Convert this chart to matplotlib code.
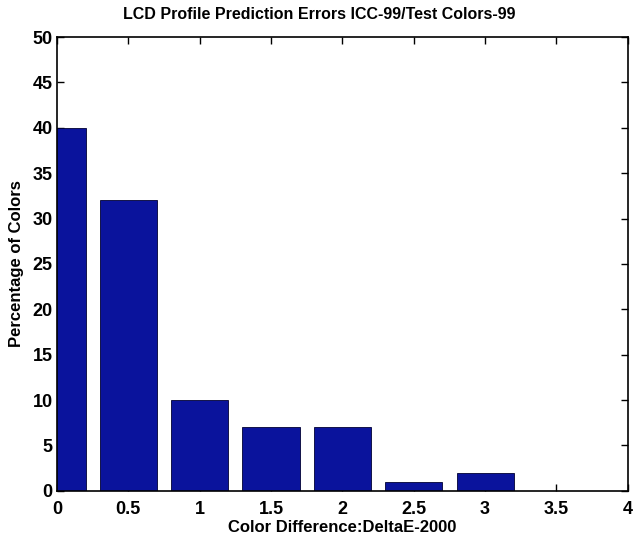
import numpy as np
import matplotlib
matplotlib.use("Agg")
import matplotlib.pyplot as plt

# DeltaE-2000 bins and share of colours in each bin
bin_centers = [0, 0.5, 1, 1.5, 2, 2.5, 3, 3.5]
percentages = [40, 32, 10, 7, 7, 1, 2, 0]
x_ticks = [0, 0.5, 1, 1.5, 2, 2.5, 3, 3.5, 4]
x_tick_labels = ["0", "0.5", "1", "1.5", "2", "2.5", "3", "3.5", "4"]
y_ticks = [0, 5, 10, 15, 20, 25, 30, 35, 40, 45, 50]

plt.rcParams['font.family'] = ['Liberation Sans', 'DejaVu Sans']
plt.rcParams['font.weight'] = 'bold'

fig = plt.figure(figsize=(6.4, 5.37), dpi=100)
ax = fig.add_axes([0.089, 0.086, 0.892, 0.845])

ax.bar(bin_centers, percentages, width=0.4, color='#0A139C',
       edgecolor='#000033', linewidth=0.6, zorder=2)

ax.set_xlim(0, 4)
ax.set_ylim(0, 50)
ax.set_xticks(x_ticks)
ax.set_xticklabels(x_tick_labels)
ax.set_yticks(y_ticks)

ax.tick_params(direction='in', length=5, width=1, top=True, right=True,
               labelsize=13)
ax.tick_params(axis='x', pad=7)
ax.tick_params(axis='y', pad=3)
for spine in ax.spines.values():
    spine.set_linewidth(1.2)

ax.set_title("LCD Profile Prediction Errors ICC-99/Test Colors-99",
             fontsize=11.5, fontweight='bold', pad=13, x=0.46)
ax.set_xlabel("Color Difference:DeltaE-2000", fontsize=12,
              fontweight='bold', labelpad=2)
ax.set_ylabel("Percentage of Colors", fontsize=12, fontweight='bold',
              labelpad=6)

plt.savefig("out.png", dpi=100)
plt.close(fig)
